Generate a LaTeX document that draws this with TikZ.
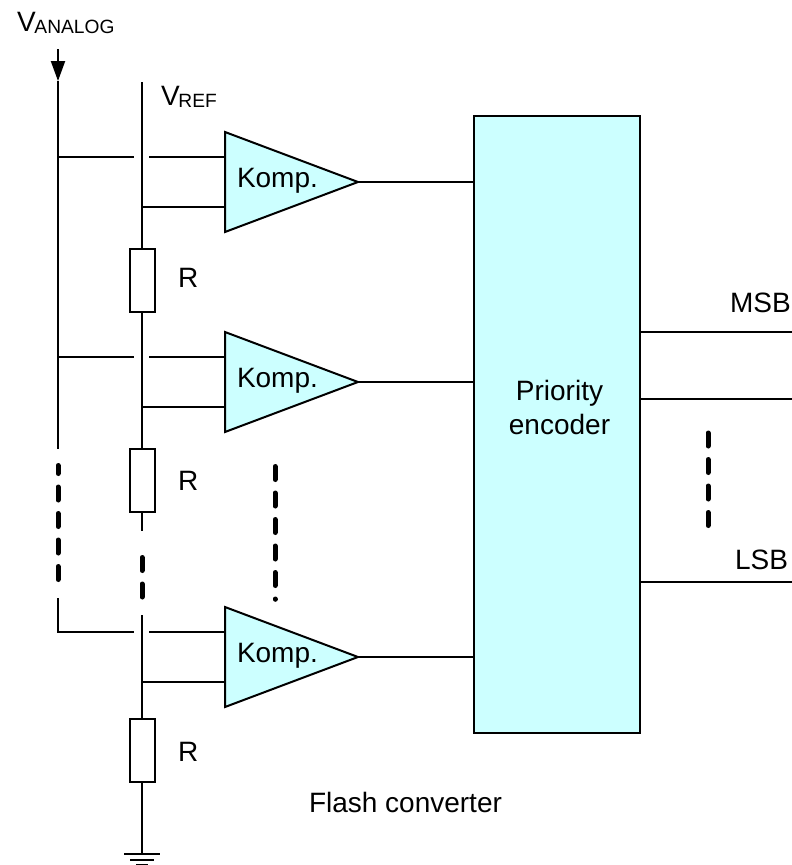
\documentclass[tikz,border=0pt]{standalone}
\usepackage{fontspec}
\setmainfont{Liberation Sans}
\usetikzlibrary{arrows.meta, positioning}
\definecolor{komplight}{HTML}{CCFFFF}
\newcommand{\subvolt}[2]{#1\kern-1.2pt\raisebox{-2pt}{\fontsize{19.2}{22}\selectfont #2}}

\begin{document}
\begin{tikzpicture}[x=1pt, y=-1pt, line width=2pt, line join=miter,
        font=\fontsize{28}{34}\selectfont,
        wire/.style={draw=black},
        komp/.style={draw=black, fill=komplight},
        resistor/.style={draw=black, fill=white, rectangle, minimum width=25pt, minimum height=63pt, inner sep=0pt},
        encoderbox/.style={draw=black, fill=komplight, rectangle, minimum width=166pt, minimum height=617pt, inner sep=0pt},
        label/.style={inner sep=0pt, anchor=base west},
        dots/.style={line width=5pt, line cap=round, dash pattern=on 13pt off 13.5pt}]
    \useasboundingbox (0,0) rectangle (792,865);

    % block and resistors
    \node[encoderbox] (encoder) at (557,424.5) {};
    \node[resistor] (r1) at (142,280.5) {};
    \node[resistor] (r2) at (142,480.5) {};
    \node[resistor] (r3) at (142,750.5) {};

    % free ends of the lines
    \coordinate (atop) at (58,49);
    \coordinate (aarrow) at (58,81);
    \coordinate (aend) at (58,449);
    \coordinate (afoot) at (58,598);
    \coordinate (rtop) at (142,82);
    \coordinate (r2end) at (142,531);
    \coordinate (r3start) at (142,615);
    \coordinate (gnd) at (142,854);

    % comparators
    \foreach \n/\y in {1/182, 2/382, 3/657} {
        \coordinate (kup\n) at (225,\y-50);
        \coordinate (kdown\n) at (225,\y+50);
        \coordinate (ktip\n) at (358,\y);
        \coordinate (kplus\n) at (225,\y-25);
        \coordinate (kminus\n) at (225,\y+25);
        \coordinate (gapa\n) at (134,\y-25);
        \coordinate (gapb\n) at (149,\y-25);
        \draw[komp] (kup\n) -- (ktip\n) -- (kdown\n) -- cycle;
        \node[label] (ktext\n) at (236,\y+5) {Komp.};
        \draw[wire] (gapb\n) -- (kplus\n);
        \draw[wire] (rtop |- kminus\n) -- (kminus\n);
        \draw[wire] (ktip\n) -- (encoder.west |- ktip\n);
    }

    % analog input
    \draw[wire, -{Triangle[length=20pt, width=14pt, sep=0pt]}] (atop) -- (aarrow);
    \draw[wire] (aarrow) -- (aend);
    \draw[wire] (aarrow |- gapa1) -- (gapa1);
    \draw[wire] (aarrow |- gapa2) -- (gapa2);
    \draw[wire] (afoot) -- (aarrow |- gapa3) -- (gapa3);

    % reference chain
    \draw[wire] (rtop) -- (r1.north);
    \draw[wire] (r1.south) -- (r2.north);
    \draw[wire] (r2.south) -- (r2end);
    \draw[wire] (r3start) -- (r3.north);
    \draw[wire] (r3.south) -- (gnd);

    % ground
    \coordinate (gnda) at (124,854);
    \coordinate (gndb) at (160,854);
    \coordinate (gndc) at (130,859.5);
    \coordinate (gndd) at (154,859.5);
    \coordinate (gnde) at (136,864.5);
    \coordinate (gndf) at (148,864.5);
    \draw[wire] (gnda) -- (gndb);
    \draw[wire] (gndc) -- (gndd);
    \draw[wire] (gnde) -- (gndf);

    % outputs
    \coordinate (outa) at (792,332);
    \coordinate (outb) at (792,399);
    \coordinate (outc) at (792,582);
    \draw[wire] (encoder.east |- outa) -- (outa);
    \draw[wire] (encoder.east |- outb) -- (outb);
    \draw[wire] (encoder.east |- outc) -- (outc);

    % dashed runs
    \coordinate (dota) at (58,465.5);
    \coordinate (dotb) at (58,581);
    \coordinate (dotc) at (142,557.5);
    \coordinate (dotd) at (142,599);
    \coordinate (dote) at (275,466.5);
    \coordinate (dotf) at (275,599.3);
    \coordinate (dotg) at (708,433);
    \coordinate (doth) at (708,526);
    \draw[dots, dash phase=5pt] (dota) -- (dotb);
    \draw[dots] (dotc) -- (dotd);
    \draw[dots] (dote) -- (dotf);
    \draw[dots] (dotg) -- (doth);

    % texts
    \node[label] (vanalog) at (16,31) {\subvolt{V}{ANALOG}};
    \node[label] (vref) at (160,105) {\subvolt{V}{REF}};
    \node[label] (rtext1) at (177,287) {R};
    \node[label] (rtext2) at (177,490) {R};
    \node[label] (rtext3) at (177,761) {R};
    \node[label] (msb) at (729,312) {MSB};
    \node[label] (lsb) at (734,569) {LSB};
    \node[label] (flash) at (308,812) {Flash converter};
    \node[inner sep=0pt, align=center] (enctext) at (559.5,407) {Priority\\encoder};
\end{tikzpicture}
\end{document}
